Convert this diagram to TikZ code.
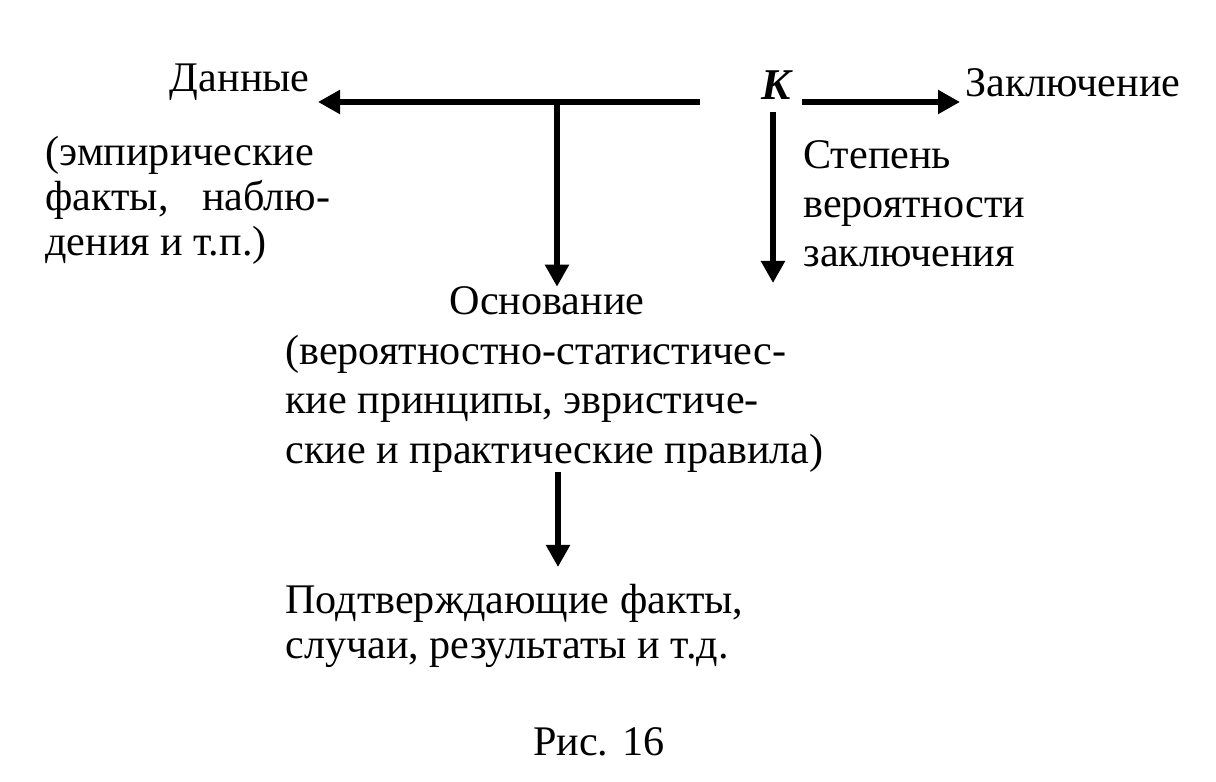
\documentclass[tikz,border=0pt]{standalone}
\usepackage{fontspec}
\setmainfont{Liberation Serif}
\usetikzlibrary{arrows.meta}

\tikzset{
  txt/.style={inner sep=0pt, font=\fontsize{24}{25.6}\selectfont},
  flow/.style={line width=3pt, >={Triangle[length=0.44cm, width=0.46cm]}}
}

\begin{document}
\begin{tikzpicture}
    \useasboundingbox (0,0) rectangle (24.32,15.64);

    % Text at the top row
    \node[txt, anchor=base east] (data) at (6.2,13.8) {Данные};
    \node[txt, anchor=base, font=\fontsize{25}{26}\selectfont\bfseries\itshape] (K) at (15.52,13.64) {K};
    \node[txt, anchor=base west] (concl) at (19.3,13.7) {Заключение};

    % Notes under the top row
    \node[txt, anchor=north west, align=left] (facts) at (0.9,12.92)
        {(эмпирические\\ \hbox to 5.7cm{факты,\hfill наблю-}\\ дения и т.п.)};
    \node[txt, anchor=north west, align=left, font=\fontsize{24}{28}\selectfont] (degree) at (16.06,12.84)
        {Степень\\ вероятности\\ заключения};

    % Warrant and its backing
    \node[txt, anchor=base] (warrant) at (10.94,9.34) {Основание};
    \node[txt, anchor=north west, align=left, font=\fontsize{24}{28}\selectfont] (rules) at (5.7,8.94)
        {(вероятностно-статистичес-\\ кие принципы, эвристиче-\\ ские и практические правила)};
    \node[txt, anchor=north west, align=left] (backing) at (5.7,3.96)
        {Подтверждающие факты,\\ случаи, результаты и т.д.};

    \node[txt, anchor=base] (caption) at (11.98,0.52) {Рис. 16};

    % Connectors
    \coordinate (start) at (14.0,13.6);
    \coordinate (branch) at (11.14,13.6);
    \coordinate (dataTip) at (6.36,13.6);
    \coordinate (kRight) at (16.04,13.6);
    \coordinate (conclTip) at (19.2,13.6);
    \coordinate (kDown) at (15.46,13.4);
    \coordinate (degreeTip) at (15.46,9.98);
    \coordinate (rulesOut) at (11.16,6.2);
    \coordinate (backingTip) at (11.16,4.3);

    \draw[flow, ->] (start) -- (dataTip);
    \draw[flow, ->] (branch) -- (branch |- warrant.north);
    \draw[flow, ->] (kRight) -- (conclTip);
    \draw[flow, ->] (kDown) -- (degreeTip);
    \draw[flow, ->] (rulesOut) -- (backingTip);
\end{tikzpicture}
\end{document}
